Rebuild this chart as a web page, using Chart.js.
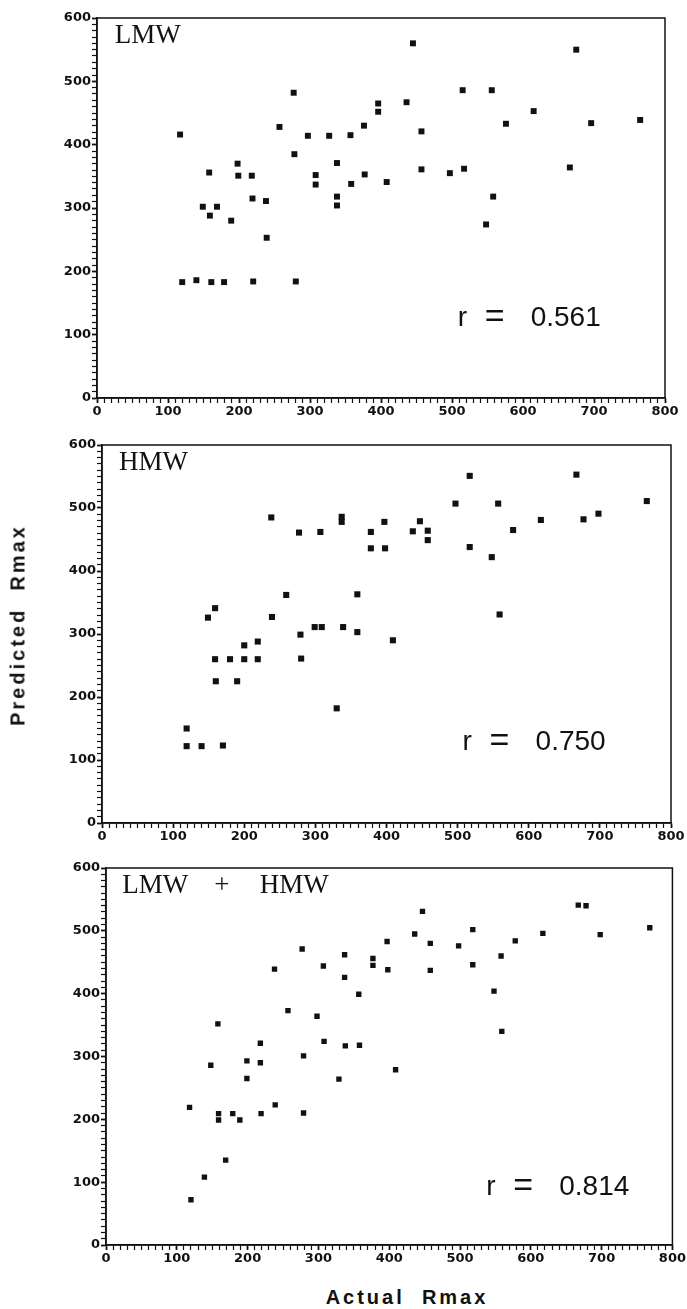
<!DOCTYPE html>
<html>
<head>
<meta charset="utf-8">
<script src="https://cdn.jsdelivr.net/npm/chart.js@4.4.0/dist/chart.umd.min.js"></script>
<style>
  body { margin: 0; background: #fff; width: 687px; height: 1309px; position: relative; overflow: hidden; }
  canvas { position: absolute; left: 0; }
  .axis-title {
    position: absolute;
    font-family: "Liberation Sans", Arial, sans-serif;
    font-weight: bold;
    font-size: 20px;
    letter-spacing: 3px;
    white-space: pre;
    color: #111;
    transform: translate(-50%, -50%);
  }
  #yTitle { left: 18px; top: 625px; transform: translate(-50%, -50%) rotate(-90deg); }
  #xTitle { left: 407px; top: 1297px; }
</style>
</head>
<body>
<canvas id="lmwChart" width="687" height="425" style="top:0"></canvas>
<canvas id="hmwChart" width="687" height="425" style="top:425px"></canvas>
<canvas id="bothChart" width="687" height="420" style="top:850px"></canvas>
<div class="axis-title" id="yTitle">Predicted  Rmax</div>
<div class="axis-title" id="xTitle">Actual  Rmax</div>
<script>
// ** values **

const lmwActual = [117, 120, 140, 149, 158, 159, 161, 169, 179, 189, 198, 199, 218, 219, 220, 238, 239, 257, 277, 278, 280, 297, 308, 308, 327, 338, 338, 338, 357, 358, 376, 377, 396, 396, 408, 436, 445, 457, 457, 497, 515, 517, 548, 556, 558, 576, 615, 666, 675, 696, 765];
const lmwPredicted = [416, 183, 186, 302, 356, 288, 183, 302, 183, 280, 370, 351, 351, 315, 184, 311, 253, 428, 482, 385, 184, 414, 352, 337, 414, 371, 318, 304, 415, 338, 430, 353, 465, 452, 341, 467, 560, 421, 361, 355, 486, 362, 274, 486, 318, 433, 453, 364, 550, 434, 439];

const hmwActual = [119, 119, 140, 149, 159, 159, 160, 170, 180, 190, 200, 200, 219, 219, 238, 239, 259, 277, 279, 280, 299, 309, 307, 330, 337, 337, 339, 359, 359, 378, 378, 397, 398, 409, 437, 447, 458, 458, 497, 517, 517, 548, 557, 559, 578, 617, 667, 677, 698, 766];
const hmwPredicted = [150, 122, 122, 326, 341, 260, 225, 123, 260, 225, 282, 260, 288, 260, 485, 327, 362, 461, 299, 261, 311, 311, 462, 182, 486, 478, 311, 363, 303, 462, 436, 478, 436, 290, 463, 479, 464, 449, 507, 551, 438, 422, 507, 331, 465, 481, 553, 482, 491, 511];

const bothActual = [118, 120, 139, 148, 158, 159, 159, 169, 179, 189, 199, 199, 218, 218, 219, 238, 239, 257, 277, 279, 279, 298, 307, 308, 329, 337, 337, 338, 357, 358, 377, 377, 397, 398, 409, 436, 447, 458, 458, 498, 518, 518, 548, 558, 559, 578, 617, 667, 678, 698, 768];
const bothPredicted = [219, 72, 108, 286, 352, 209, 199, 135, 209, 199, 293, 265, 321, 290, 209, 439, 223, 373, 471, 301, 210, 364, 444, 324, 264, 462, 426, 317, 399, 318, 456, 445, 483, 438, 279, 495, 531, 480, 437, 476, 502, 446, 404, 460, 340, 484, 496, 541, 540, 494, 505];

const xRange = [0, 800];
const yRange = [0, 600];
const majorStep = 100;
const minorStep = 10;

const ink = "#111";

// frame, panel name and r value
function panelDecor(titleParts, rLabel, rPos) {
  return {
    id: "panelDecor",
    afterDraw(chart) {
      const { ctx, chartArea, scales } = chart;
      ctx.save();
      ctx.strokeStyle = ink;
      ctx.lineWidth = 1.5;
      ctx.strokeRect(chartArea.left, chartArea.top, chartArea.width, chartArea.height);

      ctx.fillStyle = ink;
      ctx.textBaseline = "alphabetic";
      ctx.font = '27px "Liberation Serif", "Times New Roman", serif';
      titleParts.forEach(([txt, xv]) => {
        ctx.fillText(txt, scales.x.getPixelForValue(xv), scales.y.getPixelForValue(560));
      });

      ctx.font = '300 28px "Liberation Sans", Arial, sans-serif';
      const rx = scales.x.getPixelForValue(rPos[0]);
      const ry = scales.y.getPixelForValue(rPos[1]);
      ctx.fillText("r", rx, ry);
      ctx.save();
      ctx.font = '300 34px "Liberation Sans", Arial, sans-serif';
      ctx.fillText("=", rx + 27, ry + 1);
      ctx.restore();
      ctx.fillText(rLabel, rx + 73, ry);
      ctx.restore();
    },
  };
}

function tickFont() {
  return { family: '"DejaVu Sans", sans-serif', size: 13, weight: "bold" };
}

function makePanel(canvasId, xs, ys, box, titleParts, rLabel, rPos, radius) {
  const canvas = document.getElementById(canvasId);
  const points = xs.map((x, i) => ({ x: x, y: ys[i] }));
  const axisGrid = {
    display: true,
    drawOnChartArea: false,
    drawTicks: true,
    tickLength: 5,
    tickColor: ink,
    tickWidth: (c) => (c.tick && c.tick.value % majorStep === 0 ? 1.8 : 1.2),
  };
  const labelEvery = (v) => (v % majorStep === 0 ? String(v) : "");

  return new Chart(canvas.getContext("2d"), {
    type: "scatter",
    data: {
      datasets: [
        {
          data: points,
          pointStyle: "rect",
          pointRadius: radius,
          pointBorderWidth: 0,
          backgroundColor: ink,
          borderColor: ink,
        },
      ],
    },
    options: {
      responsive: false,
      animation: false,
      layout: {
        padding: {
          left: box.left - 40,
          right: canvas.width - box.right,
          top: box.top,
          bottom: canvas.height - box.bottom - 22,
        },
      },
      plugins: {
        legend: { display: false },
        tooltip: { enabled: false },
      },
      scales: {
        x: {
          type: "linear",
          min: xRange[0],
          max: xRange[1],
          afterFit: (s) => { s.height = 22; },
          ticks: {
            stepSize: minorStep,
            autoSkip: false,
            maxRotation: 0,
            padding: 1,
            color: ink,
            font: tickFont(),
            callback: labelEvery,
          },
          grid: axisGrid,
          border: { display: true, color: ink, width: 1.5 },
        },
        y: {
          type: "linear",
          min: yRange[0],
          max: yRange[1],
          afterFit: (s) => { s.width = 40; },
          ticks: {
            stepSize: minorStep,
            autoSkip: false,
            padding: 1,
            color: ink,
            font: tickFont(),
            callback: labelEvery,
          },
          grid: axisGrid,
          border: { display: true, color: ink, width: 1.5 },
        },
      },
    },
    plugins: [panelDecor(titleParts, rLabel, rPos)],
  });
}

makePanel("lmwChart", lmwActual, lmwPredicted,
  { left: 97, right: 665, top: 18, bottom: 398 },
  [["LMW", 25]], "0.561", [508, 114], 4.2);

makePanel("hmwChart", hmwActual, hmwPredicted,
  { left: 102, right: 671, top: 20, bottom: 398 },
  [["HMW", 24]], "0.750", [507, 116], 4.3);

makePanel("bothChart", bothActual, bothPredicted,
  { left: 106, right: 674, top: 18, bottom: 395 },
  [["LMW", 23], ["+", 153], ["HMW", 217]], "0.814", [537, 80], 3.8);
</script>
</body>
</html>
